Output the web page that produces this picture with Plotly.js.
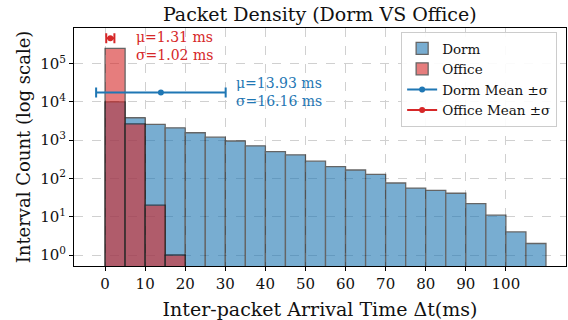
<!DOCTYPE html>
<html><head><meta charset="utf-8">
<script src="https://cdn.plot.ly/plotly-3.0.1.min.js"></script>
<style>html,body{margin:0;padding:0;background:#fff}#chart{width:568px;height:320px}</style>
</head><body><div id="chart"></div>
<script>
// bin left edges (ms), bin width 5
const binStarts = [0,5,10,15,20,25,30,35,40,45,50,55,60,65,70,75,80,85,90,95,100,105];
const binWidth = 5;
const dormCounts = [10000,3850,2580,2100,1560,1200,950,710,500,415,283,203,166,128,76,56,49,41,22,11,4,2];
const officeCounts = [250000,2650,20,1,0,0,0,0,0,0,0,0,0,0,0,0,0,0,0,0,0,0];
const dormMean = 13.93, dormStd = 16.16, dormBarY = 17500;
const officeMean = 1.31, officeStd = 1.02, officeBarY = 460000;
const xTicks = [0,10,20,30,40,50,60,70,80,90,100];
const yTickVals = [1,10,100,1000,10000,100000];
const yTickText = ['10<sup>0</sup>','10<sup>1</sup>','10<sup>2</sup>','10<sup>3</sup>','10<sup>4</sup>','10<sup>5</sup>'];

const centers = binStarts.map(s => s + binWidth/2);
const font = '"DejaVu Serif", serif';
const blue = '#1f77b4', red = '#d62728';

const traces = [
  {type:'bar', name:'Dorm', x:centers, y:dormCounts, width:binWidth,
   marker:{color:blue, line:{color:'#000', width:1.3}}, opacity:0.6},
  {type:'bar', name:'Office', x:centers.filter((c,i)=>officeCounts[i]>0), y:officeCounts.filter(v=>v>0), width:binWidth,
   marker:{color:red, line:{color:'#000', width:1.3}}, opacity:0.6},
  {type:'scatter', mode:'lines+markers', name:'Dorm Mean ±σ', x:[dormMean], y:[dormBarY],
   marker:{color:blue, size:6}, line:{color:blue, width:2},
   error_x:{type:'data', array:[dormStd], color:blue, thickness:2, width:5}},
  {type:'scatter', mode:'lines+markers', name:'Office Mean ±σ', x:[officeMean], y:[officeBarY],
   marker:{color:red, size:6}, line:{color:red, width:2},
   error_x:{type:'data', array:[officeStd], color:red, thickness:2, width:5}}
];

const layout = {
  width:568, height:320,
  margin:{l:74, r:2, t:28, b:54},
  paper_bgcolor:'#fff', plot_bgcolor:'#fff',
  font:{family:font, color:'#222', size:14},
  barmode:'overlay',
  title:{text:'Packet Density (Dorm VS Office)', x:0.563, xanchor:'center', y:0.955, yanchor:'middle', font:{family:font, size:19, color:'#111'}},
  xaxis:{range:[-7.75,115], tickvals:xTicks, ticks:'outside', ticklen:4, tickcolor:'#000',
    showline:true, linecolor:'#000', linewidth:1, mirror:true, zeroline:false, automargin:false,
    showgrid:true, gridcolor:'#d0d0d0', griddash:'dash', gridwidth:1,
    tickfont:{family:font, size:15, color:'#111'},
    title:{text:'Inter-packet Arrival Time Δt(ms)', font:{family:font, size:19, color:'#111'}, standoff:12}},
  yaxis:{type:'log', range:[-0.287,5.93], tickvals:yTickVals, ticktext:yTickText,
    ticks:'outside', ticklen:4, tickcolor:'#000',
    showline:true, linecolor:'#000', linewidth:1, mirror:true, zeroline:false, automargin:false,
    showgrid:true, gridcolor:'#d0d0d0', griddash:'dash', gridwidth:1,
    tickfont:{family:font, size:15, color:'#111'},
    title:{text:'Interval Count (log scale)', font:{family:font, size:18, color:'#111'}, standoff:4}},
  legend:{x:0.982, y:0.983, xanchor:'right', yanchor:'top', bgcolor:'rgba(255,255,255,0.9)',
    bordercolor:'#ccc', borderwidth:1, font:{family:font, size:13.5, color:'#111'}, tracegroupgap:0},
  annotations:[
    {x:7.25, y:Math.log10(officeBarY)-0.21, xref:'x', yref:'y', xanchor:'left', yanchor:'middle', showarrow:false, align:'left',
     text:'μ=1.31 ms<br>σ=1.02 ms', font:{family:font, size:14, color:red}},
    {x:32.25, y:4.26, xref:'x', yref:'y', xanchor:'left', yanchor:'middle', showarrow:false, align:'left',
     text:'μ=13.93 ms<br>σ=16.16 ms', font:{family:font, size:14, color:blue}}
  ],
  showlegend:true
};
Plotly.newPlot('chart', traces, layout, {displayModeBar:false, staticPlot:true});
</script></body></html>
